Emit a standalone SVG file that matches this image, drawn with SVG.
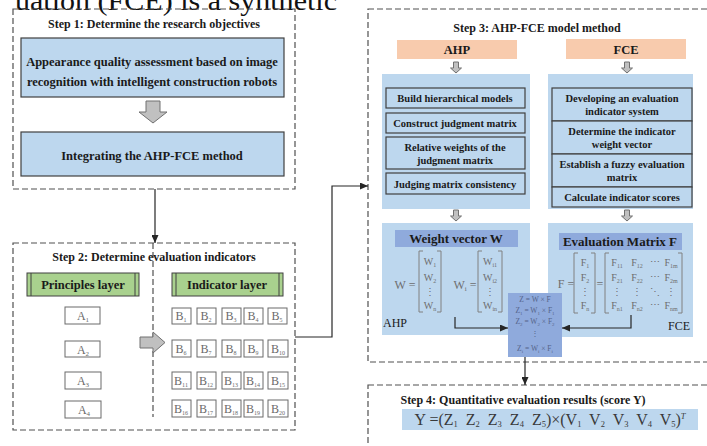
<svg xmlns="http://www.w3.org/2000/svg" width="707" height="446" viewBox="0 0 707 446">
<style>
.frame{fill:none;stroke:#505050;stroke-width:1.2;stroke-dasharray:6 3}
.step{font-family:"Liberation Serif",serif;font-weight:bold;font-size:12px;fill:#1a1a1a;text-anchor:middle}
.box{fill:#bdd7ee;stroke:#404040;stroke-width:1.2}
.panel{fill:#bdd7ee}
.head{fill:#8faadc}
.salmon{fill:#f8cbad}
.bt{font-family:"Liberation Serif",serif;font-weight:bold;fill:#1a1a1a;text-anchor:middle}
.green{fill:#a9d18e;stroke:#404040;stroke-width:1}
.bar{stroke:#404040;stroke-width:1}
.cell{fill:#fff;stroke:#6a6a6a;stroke-width:1}
.ct{font-family:"Liberation Serif",serif;font-size:12px;fill:#6a6a6a;text-anchor:middle}
.mx{font-family:"Liberation Serif",serif;fill:#6e6e6e;text-anchor:middle}
.brk{fill:none;stroke:#808080;stroke-width:1}
.garrow{fill:#c0c0c0;stroke:#707070;stroke-width:1}
.conn{fill:none;stroke:#262626;stroke-width:1.2}
.zt{font-family:"Liberation Serif",serif;font-size:7.5px;fill:#55648a;text-anchor:middle}
</style>
<defs>
  <marker id="arrow" markerUnits="userSpaceOnUse" markerWidth="8" markerHeight="7" refX="8" refY="3.5" orient="auto">
    <path d="M0,0 L8,3.5 L0,7 z" fill="#262626"/>
  </marker>
  <path id="smallDown" class="garrow" d="M-2.5,0 H2.5 V6 H5.5 L0,11 L-5.5,6 H-2.5 Z"/>
</defs>

<!-- running header text cut at the top edge -->
<text x="15" y="10" font-family="Liberation Serif,serif" font-size="27" fill="#111" textLength="322" lengthAdjust="spacingAndGlyphs">uation (FCE) is a synthetic</text>

<!-- Step 1 -->
<g id="step1">
  <rect class="frame" x="13" y="9" width="282" height="180"/>
  <text class="step" x="154" y="28">Step 1: Determine the research objectives</text>
  <g id="objective">
    <rect class="box" x="21" y="38" width="263" height="59"/>
    <text class="bt" font-size="12.5" x="152" y="66">Appearance quality assessment based on image</text>
    <text class="bt" font-size="12.5" x="152" y="86">recognition with intelligent construction robots</text>
  </g>
  <path class="garrow" d="M146,101 H160 V112 H167 L153,123 L139,112 H146 Z"/>
  <g id="integrating">
    <rect class="box" x="21" y="132" width="263" height="44"/>
    <text class="bt" font-size="12.5" x="152" y="160">Integrating the AHP-FCE method</text>
  </g>
</g>

<!-- Step 2 -->
<g id="step2">
  <rect class="frame" x="13" y="243" width="282" height="187"/>
  <line x1="153" y1="243" x2="153" y2="417" stroke="#505050" stroke-width="1.2" stroke-dasharray="6 3"/>
  <text class="step" x="154" y="261">Step 2: Determine evaluation indicators</text>
  <g id="principles">
    <rect class="green" x="27" y="273" width="112" height="23"/>
    <line class="bar" x1="31" y1="273" x2="31" y2="296"/>
    <line class="bar" x1="135" y1="273" x2="135" y2="296"/>
    <text class="bt" font-size="12.5" x="83" y="289">Principles layer</text>
  </g>
  <g id="indicators">
    <rect class="green" x="172" y="273" width="111" height="23"/>
    <line class="bar" x1="176" y1="273" x2="176" y2="296"/>
    <line class="bar" x1="279" y1="273" x2="279" y2="296"/>
    <text class="bt" font-size="12.5" x="227" y="289">Indicator layer</text>
  </g>
  <g id="a-cells">
    <rect class="cell" x="65" y="307" width="35" height="17"/><text class="ct" x="83" y="320">A<tspan font-size="7" dy="2">1</tspan></text>
    <rect class="cell" x="65" y="341" width="35" height="16"/><text class="ct" x="83" y="354">A<tspan font-size="7" dy="2">2</tspan></text>
    <rect class="cell" x="65" y="372" width="36" height="17"/><text class="ct" x="83" y="385">A<tspan font-size="7" dy="2">3</tspan></text>
    <rect class="cell" x="65" y="401" width="36" height="17"/><text class="ct" x="84" y="414">A<tspan font-size="7" dy="2">4</tspan></text>
  </g>
  <path class="garrow" d="M140,337 H153 V332 L165,342.5 L153,353 V348 H140 Z"/>
  <g id="b-cells" font-size="11">
    <rect class="cell" x="172" y="308" width="19" height="16"/><text class="ct" x="181" y="320">B<tspan font-size="6" dy="2">1</tspan></text>
    <rect class="cell" x="197" y="308" width="19" height="16"/><text class="ct" x="206" y="320">B<tspan font-size="6" dy="2">2</tspan></text>
    <rect class="cell" x="222" y="308" width="19" height="16"/><text class="ct" x="231" y="320">B<tspan font-size="6" dy="2">3</tspan></text>
    <rect class="cell" x="244" y="308" width="19" height="16"/><text class="ct" x="253" y="320">B<tspan font-size="6" dy="2">4</tspan></text>
    <rect class="cell" x="268" y="308" width="19" height="16"/><text class="ct" x="277" y="320">B<tspan font-size="6" dy="2">5</tspan></text>

    <rect class="cell" x="172" y="340" width="19" height="17"/><text class="ct" x="181" y="353">B<tspan font-size="6" dy="2">6</tspan></text>
    <rect class="cell" x="197" y="340" width="19" height="17"/><text class="ct" x="206" y="353">B<tspan font-size="6" dy="2">7</tspan></text>
    <rect class="cell" x="222" y="340" width="19" height="17"/><text class="ct" x="231" y="353">B<tspan font-size="6" dy="2">8</tspan></text>
    <rect class="cell" x="244" y="340" width="19" height="17"/><text class="ct" x="253" y="353">B<tspan font-size="6" dy="2">9</tspan></text>
    <rect class="cell" x="268" y="340" width="20" height="17"/><text class="ct" x="278" y="353">B<tspan font-size="6" dy="2">10</tspan></text>

    <rect class="cell" x="172" y="372" width="19" height="17"/><text class="ct" x="181" y="385">B<tspan font-size="6" dy="2">11</tspan></text>
    <rect class="cell" x="197" y="372" width="19" height="17"/><text class="ct" x="206" y="385">B<tspan font-size="6" dy="2">12</tspan></text>
    <rect class="cell" x="222" y="372" width="19" height="17"/><text class="ct" x="231" y="385">B<tspan font-size="6" dy="2">13</tspan></text>
    <rect class="cell" x="244" y="372" width="19" height="17"/><text class="ct" x="253" y="385">B<tspan font-size="6" dy="2">14</tspan></text>
    <rect class="cell" x="268" y="372" width="20" height="17"/><text class="ct" x="278" y="385">B<tspan font-size="6" dy="2">15</tspan></text>

    <rect class="cell" x="172" y="400" width="19" height="17"/><text class="ct" x="181" y="413">B<tspan font-size="6" dy="2">16</tspan></text>
    <rect class="cell" x="197" y="400" width="19" height="17"/><text class="ct" x="206" y="413">B<tspan font-size="6" dy="2">17</tspan></text>
    <rect class="cell" x="222" y="400" width="19" height="17"/><text class="ct" x="231" y="413">B<tspan font-size="6" dy="2">18</tspan></text>
    <rect class="cell" x="244" y="400" width="19" height="17"/><text class="ct" x="253" y="413">B<tspan font-size="6" dy="2">19</tspan></text>
    <rect class="cell" x="268" y="400" width="20" height="17"/><text class="ct" x="278" y="413">B<tspan font-size="6" dy="2">20</tspan></text>
  </g>
</g>

<!-- Step 3 -->
<g id="step3">
  <rect class="frame" x="368" y="9" width="345" height="353"/>
  <text class="step" x="537" y="32">Step 3: AHP-FCE model method</text>

  <g id="ahp-head">
    <rect class="salmon" x="397" y="40" width="120" height="19"/>
    <text class="bt" font-size="12.5" x="457" y="54">AHP</text>
  </g>
  <g id="fce-head">
    <rect class="salmon" x="566" y="39" width="120" height="20"/>
    <text class="bt" font-size="12.5" x="626" y="54">FCE</text>
  </g>
  <use href="#smallDown" x="456" y="62"/>
  <use href="#smallDown" x="627" y="62"/>

  <g id="ahp-steps">
    <rect class="panel" x="382" y="74" width="148" height="135"/>
    <rect class="box" x="386" y="88" width="139" height="20"/>
    <text class="bt" font-size="10.5" x="455" y="102">Build hierarchical models</text>
    <rect class="box" x="386" y="113" width="139" height="20"/>
    <text class="bt" font-size="10.5" x="455" y="127">Construct judgment matrix</text>
    <rect class="box" x="386" y="137" width="139" height="32"/>
    <text class="bt" font-size="10.5" x="455" y="151">Relative weights of the</text>
    <text class="bt" font-size="10.5" x="455" y="164">judgment matrix</text>
    <rect class="box" x="386" y="173" width="139" height="21"/>
    <text class="bt" font-size="10.5" x="455" y="188">Judging matrix consistency</text>
  </g>

  <g id="fce-steps">
    <rect class="panel" x="548" y="74" width="145" height="135"/>
    <rect class="box" x="552" y="88" width="140" height="33"/>
    <text class="bt" font-size="10.5" x="622" y="102">Developing an evaluation</text>
    <text class="bt" font-size="10.5" x="622" y="115">indicator system</text>
    <rect class="box" x="552" y="121" width="140" height="33"/>
    <text class="bt" font-size="10.5" x="622" y="135">Determine the indicator</text>
    <text class="bt" font-size="10.5" x="622" y="148">weight vector</text>
    <rect class="box" x="552" y="154" width="140" height="33"/>
    <text class="bt" font-size="10.5" x="622" y="168">Establish a fuzzy evaluation</text>
    <text class="bt" font-size="10.5" x="622" y="181">matrix</text>
    <rect class="box" x="552" y="187" width="140" height="20"/>
    <text class="bt" font-size="10.5" x="622" y="201">Calculate indicator scores</text>
  </g>
  <use href="#smallDown" x="456" y="210"/>
  <use href="#smallDown" x="627" y="210"/>

  <g id="weight-vector">
    <rect class="panel" x="382" y="223" width="148" height="112"/>
    <rect class="head" x="395" y="230" width="123" height="17"/>
    <text class="bt" font-size="13" x="456" y="243">Weight vector W</text>
    <text class="mx" font-size="12" x="405" y="289" fill="#555">W =</text>
    <path class="brk" d="M423,251 H419 V312 H423 M437,251 H441 V312 H437"/>
    <g class="mx" font-size="10">
      <text x="430" y="265">W<tspan font-size="6" dy="2">1</tspan></text>
      <text x="430" y="281">W<tspan font-size="6" dy="2">2</tspan></text>
      <text x="430" y="295">⋮</text>
      <text x="430" y="309">W<tspan font-size="6" dy="2">n</tspan></text>
    </g>
    <text class="mx" font-size="12" x="465" y="289" fill="#555">W<tspan font-size="7" dy="2">i</tspan><tspan dy="-2"> =</tspan></text>
    <path class="brk" d="M482,251 H478 V312 H482 M498,251 H502 V312 H498"/>
    <g class="mx" font-size="10">
      <text x="490" y="265">W<tspan font-size="6" dy="2">i1</tspan></text>
      <text x="490" y="281">W<tspan font-size="6" dy="2">i2</tspan></text>
      <text x="490" y="295">⋮</text>
      <text x="490" y="309">W<tspan font-size="6" dy="2">in</tspan></text>
    </g>
    <text font-family="Liberation Serif,serif" font-size="12" fill="#1a1a1a" x="383" y="327">AHP</text>
  </g>

  <g id="eval-matrix">
    <rect class="panel" x="548" y="223" width="145" height="114"/>
    <rect class="head" x="559" y="233" width="123" height="17"/>
    <text class="bt" font-size="13" x="620" y="246">Evaluation Matrix F</text>
    <text class="mx" font-size="12" x="566" y="288" fill="#555">F =</text>
    <path class="brk" d="M578,253 H574 V313 H578 M591,253 H595 V313 H591"/>
    <g class="mx" font-size="10">
      <text x="585" y="266">F<tspan font-size="6" dy="2">1</tspan></text>
      <text x="585" y="281">F<tspan font-size="6" dy="2">2</tspan></text>
      <text x="585" y="295">⋮</text>
      <text x="585" y="309">F<tspan font-size="6" dy="2">n</tspan></text>
    </g>
    <text class="mx" font-size="12" x="600" y="288" fill="#555">=</text>
    <path class="brk" d="M609,253 H605 V313 H609 M678,253 H682 V313 H678"/>
    <g class="mx" font-size="10">
      <text x="617" y="266">F<tspan font-size="6" dy="2">11</tspan></text>
      <text x="637" y="266">F<tspan font-size="6" dy="2">12</tspan></text>
      <text x="655" y="265">⋯</text>
      <text x="671" y="266">F<tspan font-size="6" dy="2">1m</tspan></text>
      <text x="617" y="281">F<tspan font-size="6" dy="2">21</tspan></text>
      <text x="637" y="281">F<tspan font-size="6" dy="2">22</tspan></text>
      <text x="655" y="280">⋯</text>
      <text x="671" y="281">F<tspan font-size="6" dy="2">2m</tspan></text>
      <text x="617" y="295">⋮</text>
      <text x="637" y="295">⋮</text>
      <text x="655" y="295">⋱</text>
      <text x="671" y="295">⋮</text>
      <text x="617" y="309">F<tspan font-size="6" dy="2">n1</tspan></text>
      <text x="637" y="309">F<tspan font-size="6" dy="2">n2</tspan></text>
      <text x="655" y="308">⋯</text>
      <text x="671" y="309">F<tspan font-size="6" dy="2">nm</tspan></text>
    </g>
    <text font-family="Liberation Serif,serif" font-size="12" fill="#1a1a1a" x="668" y="330">FCE</text>
  </g>

  <g id="z-box">
    <rect fill="#8faadc" x="508" y="293" width="54" height="64"/>
    <text class="zt" x="535" y="302">Z = W × F</text>
    <text class="zt" x="535" y="313">Z<tspan font-size="5" dy="1.5">1</tspan><tspan dy="-1.5"> = W</tspan><tspan font-size="5" dy="1.5">1</tspan><tspan dy="-1.5"> × F</tspan><tspan font-size="5" dy="1.5">1</tspan></text>
    <text class="zt" x="535" y="324">Z<tspan font-size="5" dy="1.5">2</tspan><tspan dy="-1.5"> = W</tspan><tspan font-size="5" dy="1.5">2</tspan><tspan dy="-1.5"> × F</tspan><tspan font-size="5" dy="1.5">2</tspan></text>
    <text class="zt" x="535" y="336">⋮</text>
    <text class="zt" x="535" y="351">Z<tspan font-size="5" dy="1.5">i</tspan><tspan dy="-1.5"> = W</tspan><tspan font-size="5" dy="1.5">i</tspan><tspan dy="-1.5"> × F</tspan><tspan font-size="5" dy="1.5">i</tspan></text>
  </g>
</g>

<!-- Step 4 -->
<g id="step4">
  <rect class="frame" x="368" y="385" width="345" height="80"/>
  <text class="step" x="523" y="404">Step 4: Quantitative evaluation results (score Y)</text>
  <rect class="panel" x="402" y="409" width="296" height="21"/>
  <text font-family="Liberation Serif,serif" font-size="16" fill="#3a3a3a" x="550" y="425" text-anchor="middle" xml:space="preserve">Y =(Z<tspan font-size="8.5" dy="2">1</tspan><tspan dy="-2">  Z</tspan><tspan font-size="8.5" dy="2">2</tspan><tspan dy="-2">  Z</tspan><tspan font-size="8.5" dy="2">3</tspan><tspan dy="-2">  Z</tspan><tspan font-size="8.5" dy="2">4</tspan><tspan dy="-2">  Z</tspan><tspan font-size="8.5" dy="2">5</tspan><tspan dy="-2">)×(V</tspan><tspan font-size="8.5" dy="2">1</tspan><tspan dy="-2">  V</tspan><tspan font-size="8.5" dy="2">2</tspan><tspan dy="-2">  V</tspan><tspan font-size="8.5" dy="2">3</tspan><tspan dy="-2">  V</tspan><tspan font-size="8.5" dy="2">4</tspan><tspan dy="-2">  V</tspan><tspan font-size="8.5" dy="2">5</tspan><tspan dy="-2">)</tspan><tspan font-size="8.5" font-style="italic" dy="-6">T</tspan></text>
</g>

<!-- connectors -->
<g id="connectors">
  <path class="conn" d="M155,189 V243" marker-end="url(#arrow)"/>
  <path class="conn" d="M295,337 H332 V186 H368" marker-end="url(#arrow)"/>
  <path class="conn" d="M455,317 V328 H508" marker-end="url(#arrow)"/>
  <path class="conn" d="M631,315 V328 H562" marker-end="url(#arrow)"/>
  <path class="conn" d="M525,357 V385" marker-end="url(#arrow)"/>
</g>
</svg>
